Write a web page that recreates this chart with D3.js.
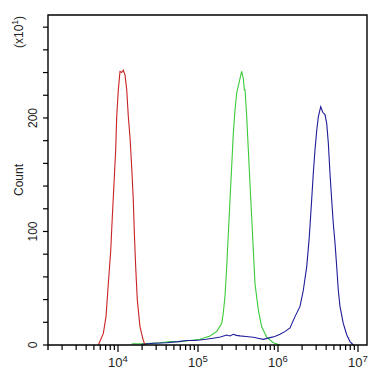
<!DOCTYPE html>
<html>
<head>
<meta charset="utf-8">
<script src="https://cdn.jsdelivr.net/npm/d3@7"></script>
<style>
html,body{margin:0;padding:0;background:#fff;}
svg{display:block;}
text{font-family:"Liberation Sans",Arial,sans-serif;fill:#222;}
</style>
</head>
<body>
<div id="chart"></div>
<script>
// Fluorescence intensity (log10 of channel value) and counts (x10)
const redLog = [3.754,3.816,3.85,3.879,3.909,3.929,3.95,3.971,3.984,4.004,4.025,4.046,4.066,4.0875,4.109,4.129,4.15,4.171,4.191,4.204,4.221,4.241,4.275,4.316,4.3375];
const redCount = [0,10,25,54,83,113,142,172,201,225,241,240,242,238,225,201,183,157,128,99,69,40,16,4,0];

const greenLog = [4.171,4.3,4.525,4.65,4.775,4.9,5.025,5.15,5.234,5.296,5.316,5.3375,5.359,5.379,5.4,5.421,5.441,5.4625,5.484,5.516,5.546,5.566,5.579,5.5875,5.609,5.629,5.65,5.671,5.691,5.7125,5.754,5.796,5.859,5.941,6.025];
const greenCount = [1,1,2,3,3,4,5,8,12,19,28,43,69,98,128,157,186,207,222,232,241,235,225,225,201,172,142,113,84,54,31,16,7,2,0];

const blueLog = [4.296,4.45,4.609,4.75,4.859,4.95,5.025,5.1,5.191,5.28,5.359,5.4,5.441,5.48,5.525,5.6,5.691,5.75,5.816,5.9,5.96,6.025,6.09,6.15,6.2125,6.275,6.316,6.359,6.391,6.421,6.441,6.4625,6.484,6.504,6.534,6.559,6.5875,6.609,6.629,6.65,6.671,6.691,6.7125,6.734,6.754,6.775,6.816,6.859,6.9,6.941];
const blueCount = [0.6,1.5,2,3,4,4,4.4,5,6,7,8.8,8,9.4,8.5,8,7.5,6.8,6,5,6.5,7.5,9.5,12,15,25,34,48,69,95,128,151,172,189,201,210,205,203,195,178,151,128,107,90,69,48,34,19,9,3,0];

const xMajorExp = [4,5,6,7];
const yLabelTicks = [0,100,200];
const yTickStep = 20;

const W = 386, H = 375;
const svg = d3.select("#chart").append("svg").attr("width",W).attr("height",H);

const x = d3.scaleLog().domain([Math.pow(10,3.125), Math.pow(10,7.1125)]).range([48,367]);
const y = d3.scaleLinear().domain([0,290.7]).range([345,15]);

// curves
const line = d3.line().x(d=>x(Math.pow(10,d[0]))).y(d=>y(d[1]));
const series = [
  {lg: greenLog, c: greenCount, color:"#3acb3a"},
  {lg: blueLog, c: blueCount, color:"#1d1d9a"},
  {lg: redLog, c: redCount, color:"#c92222"}
];
series.forEach(s=>{
  svg.append("path").datum(d3.zip(s.lg,s.c))
    .attr("d",line).attr("fill","none").attr("stroke",s.color).attr("stroke-width",1.1);
});

// frame
const x0 = x.range()[0], x1 = x.range()[1], y0 = y.range()[0], y1 = y.range()[1];
svg.append("path")
  .attr("d",`M${x0},${y0+5}V${y1}H${x1}V${y0}H${x0}`)
  .attr("fill","none").attr("stroke","#000").attr("stroke-width",1.4);

// x ticks
const dom = x.domain();
const xMinor = [];
for (let e=3;e<=7;e++){ for(let k=2;k<=9;k++){ const v=k*Math.pow(10,e); if(v>=dom[0]&&v<=dom[1]) xMinor.push(v);} }
svg.selectAll(".xminor").data(xMinor).enter().append("line")
  .attr("x1",d=>x(d)).attr("x2",d=>x(d)).attr("y1",y0).attr("y2",y0+5)
  .attr("stroke","#000").attr("stroke-width",1.2);
svg.selectAll(".xmajor").data(xMajorExp).enter().append("line")
  .attr("x1",d=>x(Math.pow(10,d))).attr("x2",d=>x(Math.pow(10,d))).attr("y1",y0).attr("y2",y0+7)
  .attr("stroke","#000").attr("stroke-width",1.2);
const xl = svg.selectAll(".xlab").data(xMajorExp).enter().append("text")
  .attr("x",d=>x(Math.pow(10,d))).attr("y",367).attr("text-anchor","middle")
  .style("font-size","13px");
xl.append("tspan").text("10");
xl.append("tspan").attr("dy",-5).style("font-size","9.5px").text(d=>d);

// y ticks
const yTicks = d3.range(0, y.domain()[1], yTickStep);
svg.selectAll(".ytick").data(yTicks).enter().append("line")
  .attr("x1",x0-5).attr("x2",x0).attr("y1",d=>y(d)).attr("y2",d=>y(d))
  .attr("stroke","#000").attr("stroke-width",1.2);
svg.selectAll(".ylab").data(yLabelTicks).enter().append("text")
  .attr("transform",d=>`translate(37,${y(d)}) rotate(-90)`)
  .attr("text-anchor","middle").style("font-size","12px").text(d=>d);

svg.append("text").attr("transform",`translate(23,${(y0+y1)/2}) rotate(-90)`)
  .attr("text-anchor","middle").style("font-size","12px").text("Count");
const mult = svg.append("text").attr("transform",`translate(23,32) rotate(-90)`)
  .attr("text-anchor","middle").style("font-size","12px");
mult.append("tspan").text("(x10");
mult.append("tspan").attr("dy",-5).style("font-size","8.5px").text("1");
mult.append("tspan").attr("dy",5).text(")");
</script>
</body>
</html>
